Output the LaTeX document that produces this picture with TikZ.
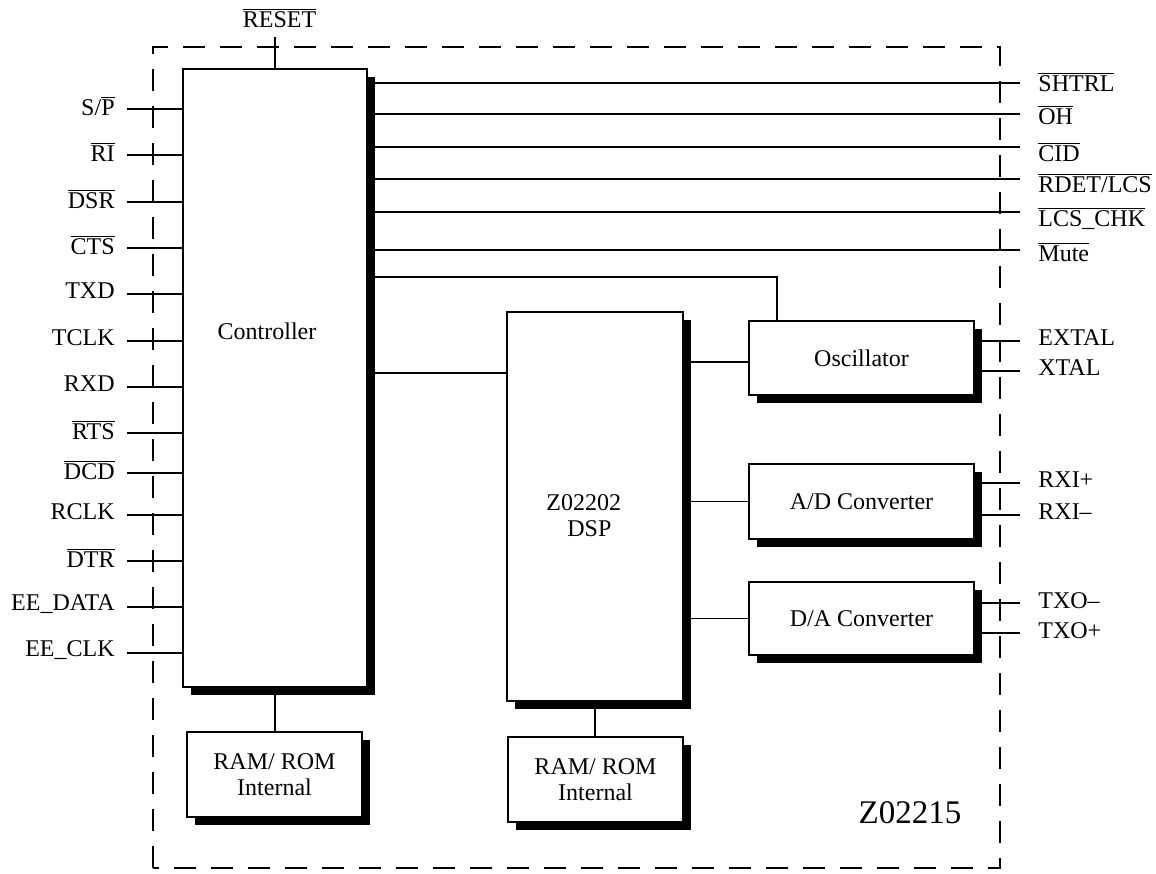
\documentclass[tikz,border=0pt]{standalone}
\usepackage{fontspec}
\setmainfont{Liberation Serif}
\usetikzlibrary{shadows}
\newcommand{\ovl}[1]{$\overline{\mbox{#1}}$}

\tikzset{
  blk/.style={draw, line width=1.35pt, fill=white, inner sep=0pt, align=center,
    drop shadow={shadow xshift=4pt, shadow yshift=-4pt, fill=black, opacity=1}},
  wire/.style={line width=0.9pt},
  lpin/.style={anchor=east, inner sep=0pt, xshift=-6pt, yshift=1.5pt},
  rpin/.style={anchor=base west, inner sep=0pt},
}

\begin{document}
\begin{tikzpicture}[x=50pt, y=50pt, font=\fontsize{12}{13}\selectfont]
  \useasboundingbox (0,0) rectangle (11.56,8.73);
  %% chip outline
  \draw[line width=1.35pt, dash pattern=on 11pt off 7.5pt] (1.53,0.05) rectangle (10.00,8.26);

  %% blocks
  \node[blk, minimum width=92pt, minimum height=309pt] (ctrl) at (2.75,4.95) {};
  \node (ctrltxt) at (2.67,5.42) {Controller};
  \node[blk, minimum width=88pt, minimum height=194.5pt] (dsp) at (5.95,3.665) {};
  \node[anchor=base west, align=left, inner sep=0pt] (dsptxt) at (5.46,3.36) {Z02202\\\hspace{10.5pt}DSP};
  \node[blk, minimum width=112.5pt, minimum height=37pt] (osc) at (8.615,5.15) {Oscillator};
  \node[blk, minimum width=112.5pt, minimum height=37.5pt] (adc) at (8.615,3.715) {A/D Converter};
  \node[blk, minimum width=112.5pt, minimum height=36.5pt] (dac) at (8.615,2.545) {D/A Converter};
  \node[blk, minimum width=87.5pt, minimum height=42.5pt] (ram1) at (2.745,0.985) {RAM/ ROM\\Internal};
  \node[blk, minimum width=87.5pt, minimum height=42.5pt] (ram2) at (5.955,0.935) {RAM/ ROM\\Internal};
  \node[font=\fontsize{16.5}{18}\selectfont] (partno) at (9.10,0.60) {Z02215};

  %% reset
  \coordinate (rst) at (2.75,8.36);
  \node[anchor=base, inner sep=0pt] (rsttxt) at (2.795,8.45) {\ovl{RESET}};
  \draw[wire] (rst) -- (ctrl.north);

  %% left pins
  \foreach \y/\s [count=\i] in {7.64/{S/\ovl{P}}, 7.18/\ovl{RI}, 6.71/\ovl{DSR}, 6.25/\ovl{CTS},
      5.79/TXD, 5.32/TCLK, 4.86/RXD, 4.40/\ovl{RTS}, 4.00/\ovl{DCD}, 3.58/RCLK,
      3.12/\ovl{DTR}, 2.66/EE\_DATA, 2.20/EE\_CLK}{
    \coordinate (l\i) at (1.27,\y);
    \node[lpin] (lt\i) at (l\i) {\s};
    \draw[wire] (l\i) -- (l\i -| ctrl.west);
  }

  %% right pins of the controller
  \foreach \y/\d/\s [count=\i] in {7.90/.09/\ovl{SHTRL}, 7.59/.11/\ovl{OH}, 7.26/.15/\ovl{CID},
      6.94/.14/{\ovl{RDET/LCS}}, 6.61/.15/\ovl{LCS\_CHK}, 6.23/.12/\ovl{Mute}}{
    \coordinate (r\i) at (10.20,\y);
    \draw[wire] (ctrl.east |- r\i) -- (r\i);
    \node[rpin] (rt\i) at (10.38,\y-\d) {\s};
  }

  %% analog pins
  \foreach \b/\y/\s [count=\i] in {osc/5.32/EXTAL, osc/5.02/XTAL, adc/3.90/RXI+,
      adc/3.58/RXI--, dac/2.70/TXO--, dac/2.40/TXO+}{
    \coordinate (a\i) at (10.20,\y);
    \draw[wire] (\b.east |- a\i) -- (a\i);
    \node[rpin] (ap\i) at (10.38,\y-0.05) {\s};
  }

  %% internal buses
  \coordinate (tap) at (7.77,5.96);
  \draw[wire] (ctrl.east |- tap) -| (osc.north -| tap);
  \draw[wire] (ctrl.east |- 0,5.00) -- (dsp.west |- 0,5.00);
  \draw[wire] (dsp.east |- 0,5.11) -- (osc.west |- 0,5.11);
  \draw[wire] (adc.west) -- (adc.west -| dsp.east);
  \draw[wire] (dac.west) -- (dac.west -| dsp.east);
  \draw[wire] (dsp.south) -- (dsp.south |- ram2.north);
  \draw[wire] (ctrl.south) -- (ctrl.south |- ram1.north);
\end{tikzpicture}
\end{document}
